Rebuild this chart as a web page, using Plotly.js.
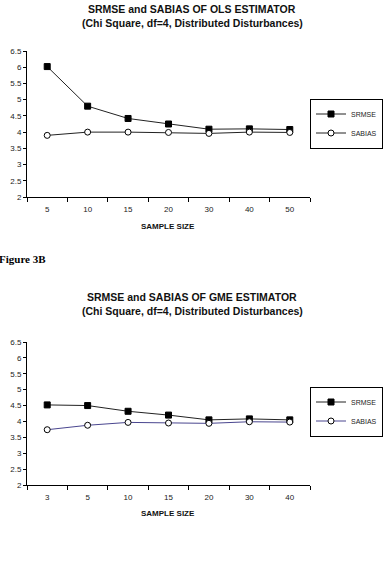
<!DOCTYPE html>
<html>
<head>
<meta charset="utf-8">
<script src="https://cdn.plot.ly/plotly-3.0.1.min.js"></script>
<style>html,body{margin:0;padding:0;background:#fff;}#chart{width:385px;height:564px;}</style>
</head>
<body>
<div id="chart"></div>
<script>
// Figure (top): OLS estimator
const olsSampleSizes = ["5", "10", "15", "20", "30", "40", "50"];
const olsSRMSE = [6.02, 4.8, 4.42, 4.25, 4.09, 4.1, 4.08];
const olsSABIAS = [3.9, 4.0, 4.0, 3.99, 3.96, 4.0, 3.99];

// Figure 3B (bottom): GME estimator
const gmeSampleSizes = ["3", "5", "10", "15", "20", "30", "40"];
const gmeSRMSE = [4.52, 4.5, 4.32, 4.2, 4.05, 4.08, 4.05];
const gmeSABIAS = [3.74, 3.88, 3.97, 3.95, 3.94, 3.99, 3.98];

const yTickVals = [2, 2.5, 3, 3.5, 4, 4.5, 5, 5.5, 6, 6.5];

const FONT = "Liberation Sans, Arial, sans-serif";
const sqMarker = {symbol: "square", size: 6, color: "#000", line: {color: "#000", width: 1}};
const ciMarker = {symbol: "circle", size: 6, color: "#fff", line: {color: "#000", width: 1}};

const traces = [
  {x: olsSampleSizes, y: olsSRMSE, name: "SRMSE", type: "scatter", mode: "lines+markers",
   line: {color: "#222", width: 1}, marker: sqMarker, xaxis: "x", yaxis: "y", legend: "legend"},
  {x: olsSampleSizes, y: olsSABIAS, name: "SABIAS", type: "scatter", mode: "lines+markers",
   line: {color: "#222", width: 1}, marker: ciMarker, xaxis: "x", yaxis: "y", legend: "legend"},
  {x: gmeSampleSizes, y: gmeSRMSE, name: "SRMSE", type: "scatter", mode: "lines+markers",
   line: {color: "#222", width: 1}, marker: sqMarker, xaxis: "x2", yaxis: "y2", legend: "legend2"},
  {x: gmeSampleSizes, y: gmeSABIAS, name: "SABIAS", type: "scatter", mode: "lines+markers",
   line: {color: "#4a468f", width: 1}, marker: ciMarker, xaxis: "x2", yaxis: "y2", legend: "legend2"}
];

const W = 385, H = 564;
const px = v => v / W;
const py = v => 1 - v / H;

const xaxisBase = {
  type: "category", range: [-0.5, 6.5], showgrid: false, zeroline: false,
  showline: true, linecolor: "#000", linewidth: 1, mirror: false,
  ticks: "outside", tickson: "boundaries", ticklen: 4, tickcolor: "#000", tickwidth: 1,
  ticklabelstandoff: 4,
  tickfont: {family: FONT, size: 8, color: "#222"}, fixedrange: true, automargin: false
};
const yaxisBase = {
  range: [2, 6.5], tickvals: yTickVals, showgrid: false, zeroline: false,
  showline: true, linecolor: "#000", linewidth: 1,
  ticks: "outside", ticklen: 3, tickcolor: "#000", tickwidth: 1,
  tickfont: {family: FONT, size: 8, color: "#222"}, fixedrange: true, automargin: false
};

const legendBase = {
  xanchor: "right", yanchor: "middle", bgcolor: "#fff", bordercolor: "#000", borderwidth: 1,
  font: {family: FONT, size: 7, color: "#222"}, itemwidth: 30, tracegroupgap: 0,
  traceorder: "normal"
};

const layout = {
  width: W, height: H, margin: {l: 0, r: 0, t: 0, b: 0, autoexpand: false},
  paper_bgcolor: "#fff", plot_bgcolor: "#fff", showlegend: true,
  xaxis: Object.assign({}, xaxisBase, {domain: [px(27), px(310)], anchor: "y"}),
  yaxis: Object.assign({}, yaxisBase, {domain: [py(197), py(51)], anchor: "x"}),
  xaxis2: Object.assign({}, xaxisBase, {domain: [px(27), px(310)], anchor: "y2"}),
  yaxis2: Object.assign({}, yaxisBase, {domain: [py(485), py(342)], anchor: "x2"}),
  legend: Object.assign({}, legendBase, {x: px(383), y: py(123.5)}),
  legend2: Object.assign({}, legendBase, {x: px(383), y: py(411.5)}),
  annotations: [
    {text: "<b>SRMSE and SABIAS OF OLS ESTIMATOR</b>", x: px(192), y: py(9), xref: "paper", yref: "paper",
     xanchor: "center", yanchor: "middle", showarrow: false, font: {family: FONT, size: 10.5, color: "#111"}},
    {text: "<b>(Chi Square, df=4, Distributed Disturbances)</b>", x: px(192), y: py(23), xref: "paper", yref: "paper",
     xanchor: "center", yanchor: "middle", showarrow: false, font: {family: FONT, size: 10.5, color: "#111"}},
    {text: "<b>SAMPLE SIZE</b>", x: px(168), y: py(226), xref: "paper", yref: "paper",
     xanchor: "center", yanchor: "middle", showarrow: false, font: {family: FONT, size: 8, color: "#111"}},
    {text: "<b>Figure 3B</b>", x: px(-3), y: py(259), xref: "paper", yref: "paper",
     xanchor: "left", yanchor: "middle", showarrow: false, font: {family: "Liberation Serif, Times New Roman, serif", size: 11, color: "#000"}},
    {text: "<b>SRMSE and SABIAS OF GME ESTIMATOR</b>", x: px(192), y: py(297), xref: "paper", yref: "paper",
     xanchor: "center", yanchor: "middle", showarrow: false, font: {family: FONT, size: 10.5, color: "#111"}},
    {text: "<b>(Chi Square, df=4, Distributed Disturbances)</b>", x: px(192), y: py(311), xref: "paper", yref: "paper",
     xanchor: "center", yanchor: "middle", showarrow: false, font: {family: FONT, size: 10.5, color: "#111"}},
    {text: "<b>SAMPLE SIZE</b>", x: px(168), y: py(513), xref: "paper", yref: "paper",
     xanchor: "center", yanchor: "middle", showarrow: false, font: {family: FONT, size: 8, color: "#111"}}
  ]
};

Plotly.newPlot("chart", traces, layout, {staticPlot: true, displayModeBar: false});
</script>
</body>
</html>
